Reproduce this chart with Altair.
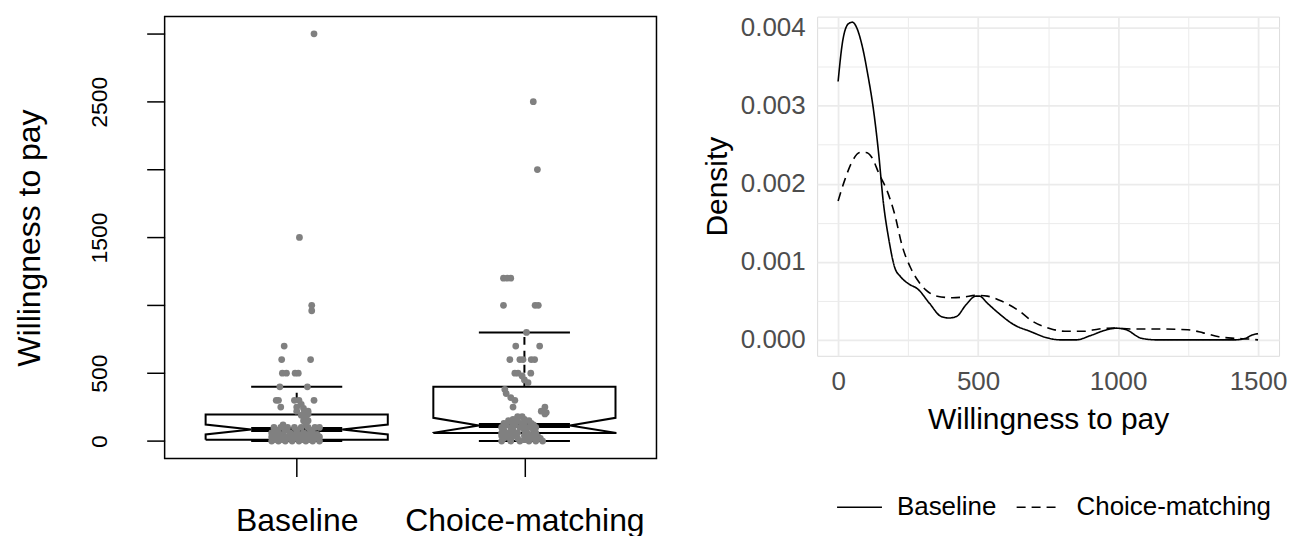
import altair as alt
import pandas as pd

FONT = "Liberation Sans"

categories = ["Baseline", "Choice-matching"]
cat_pos = [1, 2]

# Box-plot statistics
lower_whisker = [0, 0]
q1 = [10, 60]
median = [85, 115]
q3 = [195, 400]
upper_whisker = [400, 800]
notch_lo = [49, 61]
notch_hi = [122, 171]

# Jittered strip-chart points (value, horizontal jitter)
base_vals = [3000, 1500, 1000, 960, 700, 600, 600, 500, 500, 500, 500, 400, 400,
             300, 300, 300, 300, 300, 250, 250, 270, 240, 220, 200, 200, 220, 180, 190, 175,
             150, 150, 120, 120, 100, 100, 100, 100, 100, 100, 100, 100,
             80, 80, 80, 80, 60, 60, 60, 60, 60, 50, 50, 50, 50, 50, 50,
             40, 40, 40, 30, 30, 30, 30, 20, 20, 20, 20, 20,
             10, 10, 10, 10, 10, 0, 0, 0, 0, 0, 0, 0, 0]
base_jit = [0.076, 0.012, 0.066, 0.066, -0.055, -0.066, 0.061, -0.063, -0.045, -0.007, 0.007, -0.074, 0.047,
            -0.09, -0.08, -0.01, 0.01, 0.076, -0.07, 0.0, 0.02, 0.03, 0.05, 0.03, 0.05, 0.0, 0.04, 0.02, 0.04,
            0.03, 0.05, 0.04, -0.06, -0.1, -0.07, -0.04, -0.01, 0.02, 0.05, 0.08, 0.1,
            -0.09, -0.05, 0.0, 0.06, -0.11, -0.08, -0.03, 0.03, 0.07, -0.1, -0.06, -0.02, 0.01, 0.04, 0.09,
            -0.08, 0.0, 0.06, -0.11, -0.05, 0.03, 0.1, -0.09, -0.04, 0.0, 0.05, 0.08,
            -0.1, -0.06, -0.02, 0.02, 0.06, -0.11, -0.08, -0.05, -0.02, 0.01, 0.04, 0.07, 0.1]

choice_vals = [2500, 2000, 1200, 1200, 1200, 1000, 1000, 1000, 800, 700, 700,
               600, 600, 600, 600, 600, 500, 500, 500, 480, 450, 430, 380, 350, 320, 300,
               250, 250, 220, 210, 200,
               180, 180, 160, 160, 150, 150, 150, 130, 130, 130, 130, 120, 120, 120, 120,
               100, 100, 100, 100, 100, 80, 80, 80, 80, 60, 60, 60, 60, 60, 50, 50, 50,
               40, 40, 40, 40, 30, 30, 30, 20, 20, 20, 20, 10, 10, 10, 0, 0, 0, 0, 0, 0]
choice_jit = [0.039, 0.057, -0.092, -0.075, -0.06, -0.092, 0.047, 0.061, 0.009, -0.038, 0.067,
              -0.064, -0.02, -0.006, 0.03, 0.045, -0.042, -0.028, 0.028, -0.01, 0.0, 0.016, -0.086, -0.08, -0.06, -0.042,
              -0.05, 0.09, 0.074, 0.096, 0.09,
              -0.03, -0.01, -0.05, 0.0, -0.07, -0.03, 0.02, -0.09, -0.05, -0.01, 0.03, -0.08, -0.04, 0.0, 0.04,
              -0.1, -0.06, -0.02, 0.02, 0.05, -0.09, -0.05, 0.0, 0.04, -0.1, -0.07, -0.03, 0.01, 0.05, -0.08, -0.04, 0.02,
              -0.1, -0.05, 0.0, 0.04, -0.07, 0.02, 0.06, -0.09, -0.03, 0.03, 0.07, -0.06, 0.0, 0.05,
              -0.1, -0.06, -0.02, 0.02, 0.05, 0.08]

# Density curves
dens_x_base = [0, 16, 37, 51, 65, 85, 106, 127, 145, 161, 182, 202, 223, 251, 285, 326, 368, 395,
               423, 457, 492, 505, 533, 574, 630, 685, 753, 795, 850, 905, 960, 994, 1029, 1084,
               1139, 1415, 1456, 1477, 1500]
dens_base = [0.00331, 0.00382, 0.00405, 0.00407, 0.00401, 0.00378, 0.0034, 0.00293, 0.00238, 0.00178,
             0.00127, 0.00093, 0.00081, 0.00072, 0.00065, 0.00047, 0.0003, 0.00028, 0.0003, 0.00045,
             0.00056, 0.00056, 0.00047, 0.00034, 0.00019, 0.00011, 0.00002, 0.0, 0.0, 0.00006,
             0.00013, 0.00015, 0.00013, 0.00002, 0.0, 0.0, 0.00002, 0.00006, 0.00008]
dens_x_choice = [0, 23, 51, 78, 99, 120, 147, 175, 202, 230, 258, 285, 313, 354, 409, 450, 492, 533,
                 588, 643, 698, 753, 809, 877, 932, 988, 1043, 1139, 1249, 1304, 1360, 1415, 1470, 1500]
dens_choice = [0.00178, 0.00204, 0.00229, 0.0024, 0.0024, 0.00234, 0.00212, 0.00191, 0.00161, 0.00119,
               0.00093, 0.00076, 0.00064, 0.00056, 0.00054, 0.00055, 0.00057, 0.00056, 0.00049, 0.00038,
               0.00023, 0.00015, 0.00011, 0.00011, 0.00014, 0.00015, 0.00014, 0.00014, 0.00013, 0.00009,
               0.00004, 0.00002, 0.00001, 0.0]

# ---------------- left panel: notched boxplot + strip chart ----------------
W = 0.4
NW = 0.5
outline = []
for i, c in enumerate(cat_pos):
    xs = [c - W, c + W, c + W, c + W * NW, c + W, c + W, c - W, c - W, c - W * NW, c - W, c - W]
    ys = [q1[i], q1[i], notch_lo[i], median[i], notch_hi[i], q3[i], q3[i], notch_hi[i], median[i], notch_lo[i], q1[i]]
    for k, (x, y) in enumerate(zip(xs, ys)):
        outline.append({"grp": categories[i], "k": k, "x": x, "y": y})
df_outline = pd.DataFrame(outline)

whisk = []
staple = []
med = []
for i, c in enumerate(cat_pos):
    whisk.append({"x": c, "y": q3[i], "y2": upper_whisker[i]})
    whisk.append({"x": c, "y": q1[i], "y2": lower_whisker[i]})
    staple.append({"x": c - W * 0.5, "x2": c + W * 0.5, "y": upper_whisker[i]})
    staple.append({"x": c - W * 0.5, "x2": c + W * 0.5, "y": lower_whisker[i]})
    med.append({"x": c - W * NW, "x2": c + W * NW, "y": median[i]})
df_whisk = pd.DataFrame(whisk)
df_staple = pd.DataFrame(staple)
df_med = pd.DataFrame(med)

pts = [{"x": 1 + j, "y": v} for v, j in zip(base_vals, base_jit)] + \
      [{"x": 2 + j, "y": v} for v, j in zip(choice_vals, choice_jit)]
df_pts = pd.DataFrame(pts)

xscale_l = alt.Scale(domain=[0.42, 2.58], nice=False, zero=False)
yscale_l = alt.Scale(domain=[-129, 3127], nice=False, zero=False)

x_axis_l = alt.Axis(values=[1, 2], labelExpr="datum.value == 1 ? 'Baseline' : 'Choice-matching'",
                    grid=False, domain=False, tickSize=18, tickColor="black", tickWidth=1.5,
                    labelFontSize=32, labelColor="black", labelFont=FONT, labelPadding=29,
                    labelLimit=0, title=None)
# invisible spacer axis on top (reserves room above the framed plot)
x_axis_top = alt.Axis(orient="top", values=[1], labels=False, domain=False, grid=False,
                      ticks=True, tickSize=6, tickColor="transparent", title=None)
y_axis_l = alt.Axis(values=[0, 500, 1000, 1500, 2000, 2500, 3000], format="d",
                    labelExpr="indexof([0, 500, 1500, 2500], datum.value) >= 0 ? datum.label : ''",
                    grid=False, domain=False, tickSize=18, tickColor="black", tickWidth=1.5,
                    labelAngle=270, labelAlign="center", labelBaseline="bottom",
                    labelFontSize=23, labelColor="black", labelFont=FONT, labelPadding=35,
                    title="Willingness to pay", titleFontSize=32, titleFont=FONT,
                    titleFontWeight="normal", titleColor="black", titlePadding=42)

box = alt.Chart(df_outline).mark_line(color="black", strokeWidth=2).encode(
    x=alt.X("x:Q", scale=xscale_l, axis=x_axis_l),
    y=alt.Y("y:Q", scale=yscale_l, axis=y_axis_l),
    order="k:Q",
    detail="grp:N",
)
whiskers = alt.Chart(df_whisk).mark_rule(color="black", strokeWidth=2, strokeDash=[8, 6]).encode(
    x=alt.X("x:Q", scale=xscale_l, axis=x_axis_top), y=alt.Y("y:Q", scale=yscale_l), y2="y2:Q")
staples = alt.Chart(df_staple).mark_rule(color="black", strokeWidth=2).encode(
    x=alt.X("x:Q", scale=xscale_l, axis=x_axis_top), x2="x2:Q", y=alt.Y("y:Q", scale=yscale_l))
medians = alt.Chart(df_med).mark_rule(color="black", strokeWidth=5).encode(
    x=alt.X("x:Q", scale=xscale_l, axis=x_axis_top), x2="x2:Q", y=alt.Y("y:Q", scale=yscale_l))
points = alt.Chart(df_pts).mark_circle(color="#808080", opacity=1, size=46).encode(
    x=alt.X("x:Q", scale=xscale_l, axis=x_axis_top), y=alt.Y("y:Q", scale=yscale_l))

left = alt.layer(box, whiskers, staples, medians, points).resolve_axis(x="independent").properties(
    width=493, height=443,
    view=alt.ViewBackground(stroke="black", strokeWidth=1.5),
)

# ---------------- right panel: density curves ----------------
dens = [{"wtp": x, "density": d, "group": categories[0]} for x, d in zip(dens_x_base, dens_base)] + \
       [{"wtp": x, "density": d, "group": categories[1]} for x, d in zip(dens_x_choice, dens_choice)]
df_dens = pd.DataFrame(dens)

major_y = "abs(round(datum.value * 1000) - datum.value * 1000) < 1e-6"
major_x = "datum.value % 500 == 0"

x_axis_r = alt.Axis(values=[0, 250, 500, 750, 1000, 1250, 1500],
                    labelExpr="datum.value % 500 == 0 ? datum.label : ''", format="d",
                    grid=True, gridColor="#EBEBEB",
                    gridWidth={"condition": {"test": major_x, "value": 1.8}, "value": 1.0},
                    ticks=False, domain=False, labelFontSize=26, labelColor="#4D4D4D", labelFont=FONT,
                    labelPadding=13, title="Willingness to pay", titleFontSize=30, titleFont=FONT,
                    titleFontWeight="normal", titleColor="black", titlePadding=10)
y_axis_r = alt.Axis(values=[0, 0.0005, 0.001, 0.0015, 0.002, 0.0025, 0.003, 0.0035, 0.004],
                    labelExpr=major_y + " ? format(datum.value, '.3f') : ''",
                    grid=True, gridColor="#EBEBEB",
                    gridWidth={"condition": {"test": major_y, "value": 1.8}, "value": 1.0},
                    ticks=False, domain=False, labelFontSize=26, labelColor="#4D4D4D", labelFont=FONT,
                    labelPadding=12, title="Density", titleFontSize=30, titleFont=FONT,
                    titleFontWeight="normal", titleColor="black", titlePadding=8)

right = alt.Chart(df_dens).mark_line(color="black", strokeWidth=1.6, interpolate="monotone").encode(
    x=alt.X("wtp:Q", scale=alt.Scale(domain=[-75, 1575], nice=False, zero=False), axis=x_axis_r),
    y=alt.Y("density:Q", scale=alt.Scale(domain=[-0.000204, 0.004141], nice=False, zero=False), axis=y_axis_r),
    strokeDash=alt.StrokeDash(
        "group:N", title=None,
        scale=alt.Scale(domain=categories, range=[[1, 0], [9, 6]]),
        legend=alt.Legend(orient="none", legendX=19, legendY=468, direction="horizontal",
                          symbolType="stroke", symbolSize=2025, symbolStrokeWidth=1.6,
                          symbolStrokeColor="black", labelFontSize=26, labelFont=FONT,
                          labelColor="black", labelOffset=14, columnPadding=16, labelLimit=0),
    ),
).properties(width=463, height=340)

chart = alt.concat(left, right, columns=2, spacing=44).resolve_legend(
    strokeDash="independent"
).configure_view(
    strokeWidth=0
).configure(padding={"left": 5, "top": 0, "right": 5, "bottom": 0}, background="white")

chart.save("out.html", embed_options={"renderer": "svg", "actions": False})
